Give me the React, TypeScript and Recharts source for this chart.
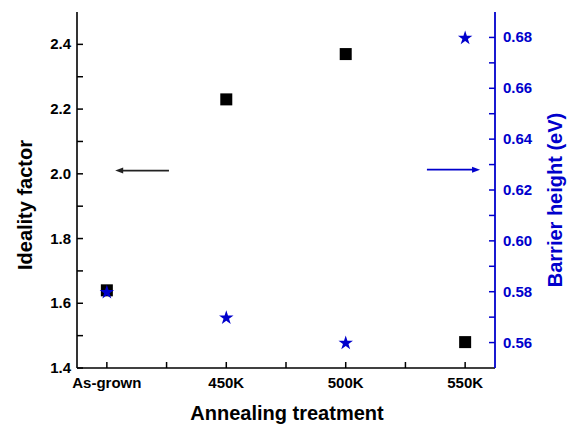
import React from 'react';
import {
  ComposedChart,
  Scatter,
  XAxis,
  YAxis,
  ReferenceLine
} from 'recharts';

const categories = ['As-grown', '450K', '500K', '550K'];
const idealityFactor = [1.64, 2.23, 2.37, 1.48];
const barrierHeight = [0.58, 0.57, 0.56, 0.68];

const xTicks = [0, 0.5, 1, 1.5, 2, 2.5, 3];
const leftTicks = [1.4, 1.5, 1.6, 1.7, 1.8, 1.9, 2.0, 2.1, 2.2, 2.3, 2.4];
const rightTicks = [0.56, 0.57, 0.58, 0.59, 0.6, 0.61, 0.62, 0.63, 0.64, 0.65, 0.66, 0.67, 0.68];

// arrows pointing at each series' axis
const leftArrow = { from: 0.52, to: 0.07, y: 2.01 };
const rightArrow = { from: 2.68, to: 3.125, y: 0.628 };

const BLUE = '#0000CC';
const FONT = '"Liberation Sans", Arial, sans-serif';

const idealityData = categories.map((c, i) => ({ x: i, y: idealityFactor[i] }));
const barrierData = categories.map((c, i) => ({ x: i, y: barrierHeight[i] }));

const TICK_LEN = 6;

const LeftTick = (props: any) => {
  const { x, y, payload } = props;
  const v = payload.value;
  const major = Math.round(v * 10) % 2 === 0;
  return (
    <g>
      <line x1={x} y1={y} x2={x + TICK_LEN} y2={y} stroke="#000" strokeWidth={1.5} />
      {major && (
        <text x={x - 6} y={y + 5} textAnchor="end" fontSize={15} fontWeight="bold" fontFamily={FONT} fill="#000">
          {v.toFixed(1)}
        </text>
      )}
    </g>
  );
};

const RightTick = (props: any) => {
  const { x, y, payload } = props;
  const v = payload.value;
  const major = Math.round(v * 100) % 2 === 0;
  return (
    <g>
      <line x1={x} y1={y} x2={x - TICK_LEN} y2={y} stroke={BLUE} strokeWidth={1.5} />
      {major && (
        <text x={x + 8} y={y + 5} textAnchor="start" fontSize={15} fontWeight="bold" fontFamily={FONT} fill={BLUE}>
          {v.toFixed(2)}
        </text>
      )}
    </g>
  );
};

const BottomTick = (props: any) => {
  const { x, y, payload } = props;
  const v = payload.value;
  const isCat = Number.isInteger(v);
  return (
    <g>
      <line x1={x} y1={y} x2={x} y2={y - TICK_LEN} stroke="#000" strokeWidth={1.5} />
      {isCat && (
        <text x={x} y={y + 20} textAnchor="middle" fontSize={15} fontWeight="bold" fontFamily={FONT} fill="#000">
          {categories[v]}
        </text>
      )}
    </g>
  );
};

const SquareShape = (props: any) => {
  const { cx, cy } = props;
  return <rect x={cx - 6} y={cy - 6} width={12} height={12} fill="#000" />;
};

const StarShape = (props: any) => {
  const { cx, cy } = props;
  const R = 7.6;
  const r = R * 0.382;
  const pts: string[] = [];
  for (let i = 0; i < 10; i++) {
    const rad = i % 2 === 0 ? R : r;
    const a = -Math.PI / 2 + (i * Math.PI) / 5;
    pts.push(`${cx + rad * Math.cos(a)},${cy + 0.6 + rad * Math.sin(a)}`);
  }
  return <polygon points={pts.join(' ')} fill={BLUE} />;
};

const arrowShape = (color: string) => (props: any) => {
  const { x1, y1, x2, y2 } = props;
  const dir = x2 > x1 ? 1 : -1;
  const headLen = 8;
  return (
    <g>
      <line x1={x1} y1={y1} x2={x2 - dir * headLen * 0.6} y2={y2} stroke={color} strokeWidth={1.6} />
      <polygon
        points={`${x2},${y2} ${x2 - dir * headLen},${y2 - 3} ${x2 - dir * headLen},${y2 + 3}`}
        fill={color}
      />
    </g>
  );
};

const LeftTitle = (props: any) => {
  const vb = props.viewBox;
  const cx = vb.x + 25;
  const cy = vb.y + vb.height / 2 + 15;
  return (
    <text x={cx} y={cy} transform={`rotate(-90, ${cx}, ${cy})`} textAnchor="middle" dominantBaseline="central"
      fontSize={20} fontWeight="bold" fontFamily={FONT} fill="#000">
      Ideality factor
    </text>
  );
};

const RightTitle = (props: any) => {
  const vb = props.viewBox;
  const cx = vb.x + 60;
  const cy = vb.y + vb.height / 2 + 10;
  return (
    <text x={cx} y={cy} transform={`rotate(-90, ${cx}, ${cy})`} textAnchor="middle" dominantBaseline="central"
      fontSize={20} fontWeight="bold" fontFamily={FONT} fill={BLUE}>
      Barrier height (eV)
    </text>
  );
};

const BottomTitle = (props: any) => {
  const vb = props.viewBox;
  return (
    <text x={vb.x + vb.width / 2 + 1} y={vb.y + 52} textAnchor="middle"
      fontSize={20} fontWeight="bold" fontFamily={FONT} fill="#000">
      Annealing treatment
    </text>
  );
};

const App: React.FC = () => {
  return (
    <div style={{ position: 'absolute', left: 0, top: 0, background: '#fff' }}>
      <ComposedChart width={571} height={425} margin={{ top: 12, right: 0, bottom: 0, left: 0 }}>
        <XAxis
          xAxisId="bottom"
          type="number"
          dataKey="x"
          domain={[-0.25, 3.25]}
          ticks={xTicks}
          interval={0}
          height={57}
          tickSize={0}
          tickMargin={0}
          tickLine={false}
          tick={<BottomTick />}
          axisLine={{ stroke: '#000', strokeWidth: 1.6 }}
          label={<BottomTitle />}
        />
        <XAxis
          xAxisId="top"
          orientation="top"
          type="number"
          domain={[-0.25, 3.25]}
          height={0}
          tick={false}
          tickLine={false}
          axisLine={{ stroke: '#000', strokeWidth: 1.6 }}
        />
        <YAxis
          yAxisId="left"
          type="number"
          domain={[1.4, 2.5]}
          ticks={leftTicks}
          interval={0}
          width={77}
          tickSize={0}
          tickMargin={0}
          tickLine={false}
          tick={<LeftTick />}
          axisLine={{ stroke: '#000', strokeWidth: 1.6 }}
          label={<LeftTitle />}
        />
        <YAxis
          yAxisId="right"
          orientation="right"
          type="number"
          domain={[0.55, 0.69]}
          ticks={rightTicks}
          interval={0}
          width={76}
          tickSize={0}
          tickMargin={0}
          tickLine={false}
          tick={<RightTick />}
          axisLine={{ stroke: BLUE, strokeWidth: 1.8 }}
          label={<RightTitle />}
        />
        <ReferenceLine
          xAxisId="bottom"
          yAxisId="left"
          segment={[{ x: leftArrow.from, y: leftArrow.y }, { x: leftArrow.to, y: leftArrow.y }]}
          shape={arrowShape('#222')}
        />
        <ReferenceLine
          xAxisId="bottom"
          yAxisId="right"
          segment={[{ x: rightArrow.from, y: rightArrow.y }, { x: rightArrow.to, y: rightArrow.y }]}
          shape={arrowShape(BLUE)}
        />
        <Scatter
          xAxisId="bottom"
          yAxisId="left"
          data={idealityData}
          dataKey="y"
          shape={<SquareShape />}
          isAnimationActive={false}
        />
        <Scatter
          xAxisId="bottom"
          yAxisId="right"
          data={barrierData}
          dataKey="y"
          shape={<StarShape />}
          isAnimationActive={false}
        />
      </ComposedChart>
    </div>
  );
};

export default App;
